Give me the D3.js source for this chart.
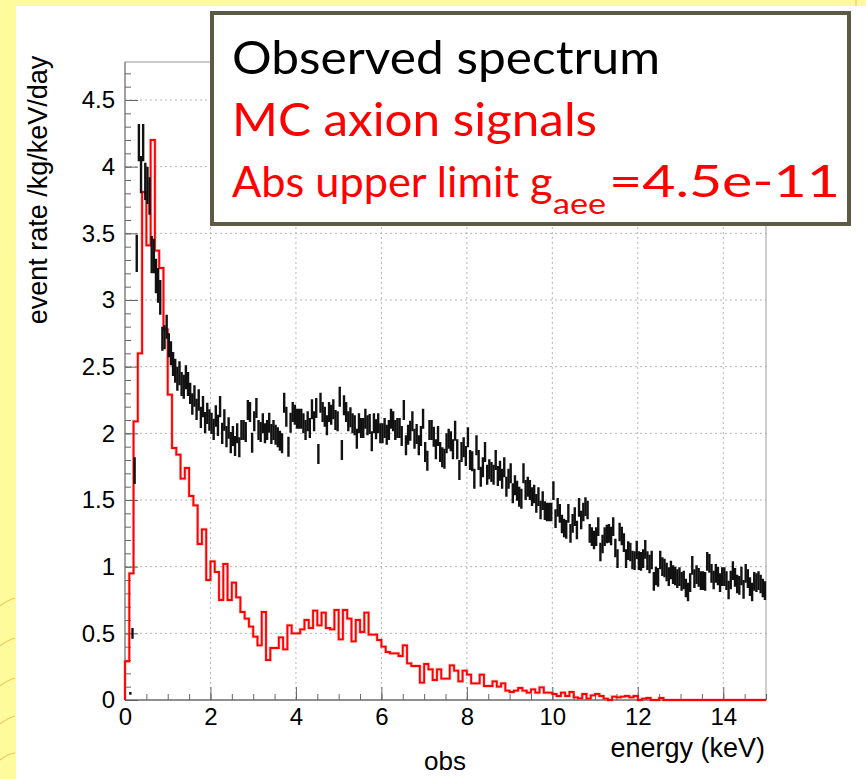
<!DOCTYPE html>
<html><head><meta charset="utf-8">
<script src="https://cdn.jsdelivr.net/npm/d3@7"></script>
<style>html,body{margin:0;padding:0;background:#fff}svg{display:block}</style>
</head><body>
<svg id="chart" width="866" height="779"></svg>
<script>
// ---------------- data ----------------
const energyRange = [0, 15];          // keV
const obsBinWidth = 0.05;             // keV, observed spectrum bins
const mcBinWidth = 0.1;               // keV, MC histogram bins

// observed event rate (/kg/keV/day), 300 bins of 0.05 keV
const obsRate = [
0,0,0.05,0.5,1.72,3.35,4.18,3.94,4.18,3.89,3.86,3.78,3.34,3.33,3.18,3.11,3.02,2.71,2.72,2.8,
2.66,2.6,2.52,2.47,2.41,2.45,2.37,2.35,2.42,2.37,2.3,2.22,2.28,2.18,2.25,2.12,2.2,2.08,2.15,2.1,
2.075,2.03,2.13,2.06,2.2,2.0,2.1,1.975,2.04,1.93,1.98,1.905,2.0,1.895,2.025,2.025,2.01,2.175,2.16,1.93,
2.09,2.19,2.025,2.01,2.075,2.0,2.025,2.08,1.995,2.025,1.99,1.97,1.945,1.925,2.23,2.125,1.9,2.08,2.16,2.14,
2.11,2.11,2.11,2.075,2.025,2.09,2.04,2.18,2.09,2.19,1.845,2.23,2.16,2.125,2.06,2.16,2.14,2.18,2.1,2.09,
2.275,1.875,2.21,2.16,2.09,2.12,2.075,2.06,1.96,2.075,2.04,2.04,2.11,2.06,2.07,1.94,2.075,2.03,2.075,2.0,
2.0,2.04,1.99,2.025,2.11,2.09,2.025,2.04,2.04,1.98,2.175,1.91,1.99,2.02,2.09,1.96,1.995,1.91,1.98,2.11,
1.86,1.795,2.025,2.025,1.975,1.88,1.98,1.86,1.82,1.81,1.925,1.96,1.94,1.88,2.02,1.88,1.725,1.86,1.895,1.83,
1.97,1.8,1.79,1.66,1.91,1.8,1.675,1.745,1.86,1.69,1.73,1.71,1.69,1.8,1.68,1.72,1.66,1.745,1.6,1.66,
1.7,1.55,1.61,1.57,1.525,1.51,1.7,1.575,1.6,1.575,1.525,1.545,1.475,1.525,1.425,1.495,1.42,1.41,1.41,1.41,
1.57,1.36,1.445,1.4,1.32,1.29,1.28,1.4,1.25,1.325,1.375,1.275,1.445,1.35,1.41,1.45,1.425,1.25,1.225,1.2,
1.225,1.3,1.11,1.17,1.225,1.245,1.25,1.23,1.3,1.14,1.06,1.26,1.23,1.18,1.06,1.12,1.11,1.05,1.045,1.125,
1.045,1.04,1.06,1.13,1.045,1.02,1.05,0.89,0.93,0.92,1.05,1.0,0.99,0.96,0.925,0.975,0.94,0.93,0.91,0.925,
0.89,0.9,0.84,0.81,0.88,1.01,0.91,0.94,0.92,0.895,0.895,0.89,1.04,1.025,0.95,0.9,0.95,0.93,0.88,0.925,
0.925,0.895,0.825,0.9,0.97,0.92,0.87,0.86,0.93,0.83,0.95,0.91,0.85,0.81,0.89,0.88,0.895,0.87,0.84,0.82
];

// half-length of the error bars on the observed spectrum
const obsErr = [
0,0,0.01,0.04,0.1,0.14,0.14,0.14,0.14,0.14,0.14,0.14,0.14,0.13,0.13,0.13,0.13,0.09,0.09,0.09,
0.09,0.09,0.09,0.09,0.09,0.09,0.09,0.09,0.09,0.09,0.08,0.08,0.08,0.08,0.08,0.08,0.08,0.08,0.08,0.08,
0.08,0.08,0.08,0.08,0.08,0.08,0.08,0.08,0.08,0.08,0.075,0.075,0.075,0.075,0.075,0.075,0.075,0.075,0.075,0.075,
0.075,0.075,0.075,0.075,0.075,0.075,0.075,0.075,0.075,0.075,0.075,0.075,0.075,0.075,0.075,0.075,0.075,0.075,0.075,0.075,
0.075,0.075,0.075,0.075,0.075,0.075,0.075,0.075,0.075,0.075,0.075,0.075,0.075,0.075,0.075,0.075,0.075,0.075,0.075,0.075,
0.075,0.075,0.075,0.075,0.075,0.075,0.075,0.075,0.075,0.075,0.075,0.075,0.075,0.075,0.075,0.075,0.075,0.075,0.075,0.075,
0.075,0.075,0.075,0.075,0.075,0.075,0.075,0.075,0.075,0.075,0.075,0.075,0.075,0.075,0.075,0.075,0.075,0.075,0.075,0.075,
0.075,0.075,0.075,0.075,0.075,0.075,0.075,0.075,0.075,0.075,0.075,0.075,0.075,0.075,0.075,0.075,0.075,0.075,0.075,0.075,
0.075,0.075,0.075,0.075,0.075,0.075,0.075,0.075,0.075,0.075,0.075,0.075,0.075,0.075,0.075,0.075,0.075,0.075,0.075,0.075,
0.075,0.075,0.075,0.075,0.075,0.075,0.075,0.075,0.075,0.075,0.07,0.07,0.07,0.07,0.07,0.07,0.07,0.07,0.07,0.07,
0.07,0.07,0.07,0.07,0.07,0.07,0.07,0.07,0.07,0.07,0.07,0.07,0.07,0.07,0.07,0.07,0.07,0.07,0.07,0.07,
0.07,0.07,0.07,0.07,0.07,0.07,0.07,0.07,0.07,0.07,0.07,0.07,0.07,0.07,0.07,0.07,0.07,0.07,0.07,0.07,
0.07,0.07,0.07,0.07,0.07,0.07,0.07,0.07,0.07,0.07,0.07,0.07,0.07,0.07,0.07,0.07,0.07,0.07,0.07,0.07,
0.07,0.07,0.07,0.07,0.07,0.07,0.07,0.07,0.07,0.07,0.07,0.07,0.07,0.07,0.07,0.07,0.07,0.07,0.07,0.07,
0.07,0.07,0.07,0.07,0.07,0.07,0.07,0.07,0.07,0.07,0.07,0.07,0.07,0.07,0.07,0.07,0.07,0.07,0.07,0.07
];

// MC axion signal at the upper limit, 150 bins of 0.1 keV
const mcRate = [
0.29,0.95,2.09,2.6,3.81,3.41,4.2,3.37,3.24,2.78,
2.29,1.89,1.84,1.66,1.74,1.53,1.46,1.17,1.28,0.90,
1.04,0.96,0.75,1.02,0.75,0.88,0.77,0.66,0.61,0.55,
0.475,0.41,0.66,0.30,0.39,0.39,0.47,0.38,0.56,0.50,
0.50,0.53,0.60,0.54,0.67,0.56,0.655,0.54,0.53,0.675,
0.455,0.675,0.61,0.44,0.60,0.51,0.655,0.49,0.49,0.45,
0.40,0.36,0.35,0.35,0.33,0.41,0.275,0.255,0.255,0.13,
0.27,0.23,0.15,0.23,0.16,0.16,0.26,0.22,0.14,0.22,
0.19,0.125,0.125,0.19,0.105,0.105,0.14,0.10,0.125,0.07,
0.06,0.07,0.09,0.07,0.055,0.08,0.055,0.095,0.055,0.055,
0.045,0.03,0.055,0.03,0.06,0.02,0.0125,0.045,0.01,0.035,
0.045,0.03,0.01,0,0.025,0.02,0.025,0.03,0.02,0.03,
0,0.01,0.015,0,0,0.015,0,0,0,0,
0,0,0,0,0,0,0,0,0,0,
0,0,0,0,0,0,0,0,0,0
];

const xTickValues = [0, 2, 4, 6, 8, 10, 12, 14];
const yTickValues = [0, 0.5, 1, 1.5, 2, 2.5, 3, 3.5, 4, 4.5];
const xTitle = "energy (keV)";
const yTitle = "event rate /kg/keV/day";
const bottomTitle = "obs";
const legendObserved = "Observed spectrum";
const legendMC = "MC axion signals";
const legendLimit = ["Abs upper limit g", "aee", "=4.5e-11"];

// ---------------- drawing ----------------
const svg = d3.select("#chart");
const W = 866, H = 779;
const plot = {left: 125, right: 766, top: 62, bottom: 700};

// background (yellow slide with white panel)
svg.append("rect").attr("width", W).attr("height", H).attr("fill", "#fdfb9c");
svg.append("rect").attr("x", 16).attr("y", 6).attr("width", W - 16).attr("height", H - 6).attr("fill", "#ffffff");
const deco = svg.append("g").attr("fill", "none").attr("stroke", "#e9b24a").attr("stroke-width", 1.2).attr("opacity", 0.7);
[[0,606,15,598],[0,646,15,638],[0,686,15,678],[0,724,15,716],[0,760,15,753]].forEach(d => {
  deco.append("path").attr("d", `M${d[0]},${d[1]} Q${(d[0]+d[2])/2},${d[1]-6} ${d[2]},${d[3]}`);
});
deco.append("path").attr("d", "M856,0 L856,6");

const x = d3.scaleLinear().domain(energyRange).range([plot.left, plot.right]);
const y = d3.scaleLinear().domain([0, 4.785]).range([plot.bottom, plot.top]);

// grid
const grid = svg.append("g").attr("stroke", "#b5b5b5").attr("stroke-width", 1).attr("stroke-dasharray", "2,3");
xTickValues.filter(v => v > 0).forEach(v => grid.append("line")
  .attr("x1", x(v)).attr("x2", x(v)).attr("y1", plot.top).attr("y2", plot.bottom));
yTickValues.filter(v => v > 0).forEach(v => grid.append("line")
  .attr("x1", plot.left).attr("x2", plot.right).attr("y1", y(v)).attr("y2", y(v)));

// frame
svg.append("rect").attr("x", plot.left).attr("y", plot.top)
  .attr("width", plot.right - plot.left).attr("height", plot.bottom - plot.top)
  .attr("fill", "none").attr("stroke", "#9a9a9a").attr("stroke-width", 1);

// axes
const fontAxis = "'Liberation Sans', Arial, Helvetica, sans-serif";
const yAxis = d3.axisLeft(y).tickValues(yTickValues).tickSize(-13).tickPadding(10).tickFormat(d3.format("~g"));
const yMinor = d3.axisLeft(y).tickValues(d3.range(0, 4.75, 0.1)).tickSize(-6).tickFormat("");
const xAxis = d3.axisBottom(x).tickValues(xTickValues).tickSize(-13).tickPadding(8).tickFormat(d3.format("~g"));
const xMinor = d3.axisBottom(x).tickValues(d3.range(0, 15.01, 0.5)).tickSize(-6).tickFormat("");

function styleAxis(g) {
  g.select(".domain").remove();
  g.selectAll("line").attr("stroke", "#666").attr("stroke-width", 1);
  g.selectAll("text").attr("font-family", fontAxis).attr("font-size", 24).attr("fill", "#000");
}
svg.append("g").attr("transform", `translate(${plot.left},0)`).call(yMinor).call(styleAxis);
svg.append("g").attr("transform", `translate(${plot.left},0)`).call(yAxis).call(styleAxis);
svg.append("g").attr("transform", `translate(0,${plot.bottom})`).call(xMinor).call(styleAxis);
svg.append("g").attr("transform", `translate(0,${plot.bottom})`).call(xAxis).call(styleAxis);
svg.append("line").attr("x1", plot.left).attr("x2", plot.right).attr("y1", plot.bottom).attr("y2", plot.bottom)
  .attr("stroke", "#555").attr("stroke-width", 1.2);
svg.append("line").attr("x1", plot.left).attr("x2", plot.left).attr("y1", plot.top).attr("y2", plot.bottom)
  .attr("stroke", "#777").attr("stroke-width", 1);

// titles
svg.append("text").attr("x", 765).attr("y", 757).attr("text-anchor", "end")
  .attr("font-family", fontAxis).attr("font-size", 27).text(xTitle);
svg.append("text").attr("x", 445).attr("y", 770).attr("text-anchor", "middle")
  .attr("font-family", fontAxis).attr("font-size", 26).text(bottomTitle);
svg.append("text").attr("transform", "translate(47,190) rotate(-90)").attr("text-anchor", "middle")
  .attr("font-family", fontAxis).attr("font-size", 27).text(yTitle);

// MC histogram (step outline)
const mcPts = [[0, 0]];
mcRate.forEach((v, i) => { mcPts.push([i * mcBinWidth, v]); mcPts.push([(i + 1) * mcBinWidth, v]); });
mcPts.push([energyRange[1], 0]);
const line = d3.line().x(d => x(d[0])).y(d => y(d[1]));
svg.append("path").datum(mcPts).attr("d", line).attr("fill", "none")
  .attr("stroke", "#ff5050").attr("stroke-width", 3).attr("stroke-opacity", 0.45);
svg.append("path").datum(mcPts).attr("d", line).attr("fill", "none")
  .attr("stroke", "#ff0000").attr("stroke-width", 1.8).attr("stroke-linejoin", "miter");

// observed spectrum with error bars
const obs = obsRate.map((v, i) => ({lo: i * obsBinWidth, hi: (i + 1) * obsBinWidth, v, e: obsErr[i]}))
  .filter(d => d.v > 0);
const og = svg.append("g").attr("stroke", "#111").attr("stroke-width", 2.4).attr("fill", "none");
og.selectAll("path.eb").data(obs).join("path").attr("class", "eb")
  .attr("d", d => {
    const cx = x((d.lo + d.hi) / 2);
    return `M${cx},${y(d.v - d.e)}V${y(d.v + d.e)}M${x(d.lo)},${y(d.v)}H${x(d.hi)}`;
  });

// legend box
const lg = svg.append("g");
lg.append("rect").attr("x", 212).attr("y", 13).attr("width", 637).attr("height", 211)
  .attr("fill", "#fff").attr("stroke", "#5c5945").attr("stroke-width", 4);
const fontLeg = "Lato, 'Open Sans', sans-serif";
lg.append("text").attr("x", 232).attr("y", 74).attr("font-family", fontLeg).attr("font-size", 47)
  .attr("fill", "#000").attr("textLength", 428).attr("lengthAdjust", "spacingAndGlyphs").text(legendObserved);
lg.append("text").attr("x", 232).attr("y", 136).attr("font-family", fontLeg).attr("font-size", 47)
  .attr("fill", "#ff0000").attr("textLength", 365).attr("lengthAdjust", "spacingAndGlyphs").text(legendMC);
lg.append("text").attr("x", 232).attr("y", 197).attr("font-family", fontLeg).attr("font-size", 43.3)
  .attr("fill", "#ff0000").text(legendLimit[0]);
lg.append("text").attr("x", 553).attr("y", 214).attr("font-family", fontLeg).attr("font-size", 29)
  .attr("fill", "#ff0000").attr("textLength", 53).attr("lengthAdjust", "spacingAndGlyphs").text(legendLimit[1]);
lg.append("text").attr("x", 609).attr("y", 197).attr("font-family", fontLeg).attr("font-size", 44)
  .attr("fill", "#ff0000").attr("textLength", 231).attr("lengthAdjust", "spacingAndGlyphs").text(legendLimit[2]);
</script>
</body></html>
